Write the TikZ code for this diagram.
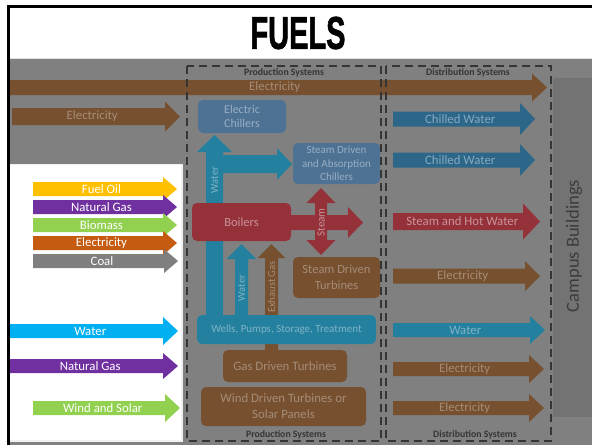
\documentclass[tikz,border=0pt]{standalone}
\usepackage{fontspec}
\usepackage{graphicx}
\setmainfont{Carlito}
\newfontfamily\titlefont{Liberation Sans}[BoldFeatures={FakeBold=1.6}]
\definecolor{bgG}{HTML}{808080}
\definecolor{campG}{HTML}{737373}
\definecolor{campT}{HTML}{3C3C3C}
\definecolor{dashC}{HTML}{353535}
\definecolor{brA}{HTML}{76502F}\definecolor{brAT}{HTML}{A58C78}
\definecolor{blA}{HTML}{2C6789}\definecolor{blAT}{HTML}{87A8C0}
\definecolor{cyA}{HTML}{24809F}\definecolor{cyAT}{HTML}{80B4C6}
\definecolor{rdA}{HTML}{953139}\definecolor{rdAT}{HTML}{C9939A}
\definecolor{bxB}{HTML}{4E7294}\definecolor{bxBT}{HTML}{98AEC3}
\definecolor{fo}{HTML}{FFC000}\definecolor{foT}{HTML}{FFFFFF}
\definecolor{ng}{HTML}{7030A0}\definecolor{ngT}{HTML}{FFFFFF}
\definecolor{bm}{HTML}{92D050}\definecolor{bmT}{HTML}{FFFFFF}
\definecolor{el}{HTML}{C55A11}\definecolor{elT}{HTML}{FFFFFF}
\definecolor{cl}{HTML}{7F7F7F}\definecolor{clT}{HTML}{FFFFFF}
\definecolor{wt}{HTML}{00B0F0}\definecolor{wtT}{HTML}{FFFFFF}
% name, x1, xtip, yc, halfbody, halfhead, headlen, colour, text
\newcommand\harr[9]{%
  \fill[#8] (#2,#4-#5) -- (#3-#7,#4-#5) -- (#3-#7,#4-#6) -- (#3,#4) -- (#3-#7,#4+#6) -- (#3-#7,#4+#5) -- (#2,#4+#5) -- cycle;
  \node[lab,text=#8T] (#1) at ({(#2+#3)/2-#7/4},#4) {#9};}
\begin{document}
\begin{tikzpicture}[x=1pt,y=-1pt,
  lab/.style={inner sep=0pt,font=\fontsize{12.8}{14}\selectfont},
  rlab/.style={inner sep=0pt,rotate=90,font=\fontsize{10.5}{12}\selectfont},
  rbox/.style={rounded corners=5pt,inner sep=0pt,align=center},
  dbox/.style={draw=dashC,line width=1.6pt,dash pattern=on 8pt off 5pt},
  sys/.style={inner sep=0pt,text=dashC,font=\fontsize{9.8}{11}\selectfont\bfseries}]
\useasboundingbox (0,0) rectangle (592,445);
\fill[white] (0,0) rectangle (592,445);
\fill[bgG] (10,58) rectangle (592,445);
\draw[white!75!gray,line width=0.8pt] (10,58) -- (592,58);
\draw[black,line width=2.6pt] (7,6.3) -- (592,6.3);
\draw[black,line width=2.6pt] (8.5,5) -- (8.5,445);
\node (title) at (298,33) {\scalebox{0.63}[1]{\titlefont\bfseries\fontsize{46}{46}\selectfont FUELS}};
% campus buildings
\fill[campG] (553,78) rectangle (592,417);
\node[rotate=90,inner sep=0pt,text=campT,font=\fontsize{18.5}{20}\selectfont] (campus) at (574,246) {Campus Buildings};
% white panel
\fill[white!88!gray] (10,163.5) rectangle (182.5,441.5);
\fill[white] (10,165) rectangle (180.5,439.5);
% left fuels
\harr{fuel}{33}{177}{189}{7}{12}{14}{fo}{Fuel Oil}
\harr{gas}{33}{177}{207}{7}{12}{14}{ng}{Natural Gas}
\harr{bio}{33}{177}{225}{7}{12}{14}{bm}{Biomass}
\harr{elec}{33}{177}{243}{7}{12}{14}{el}{Electricity}
\harr{coal}{33}{178}{261}{7}{12}{14}{cl}{Coal}
\harr{water}{10}{178}{331}{7}{14}{15}{wt}{Water}
\harr{gas2}{10}{178}{366}{7}{13}{15}{ng}{Natural Gas}
\harr{wind}{33}{180}{408}{7}{14}{15}{bm}{Wind and Solar}
% top electricity arrows
\harr{topelec}{10}{547}{87.5}{7.5}{14}{15}{brA}{Electricity}
\harr{elecin}{12}{180}{116.5}{8.5}{15}{15}{brA}{Electricity}
% distribution arrows
\harr{cw1}{393}{535}{119}{7.5}{16}{15}{blA}{Chilled Water}
\harr{cw2}{393}{535}{160}{7.5}{16}{15}{blA}{Chilled Water}
\harr{shw}{393}{540}{221.5}{8.5}{18}{17}{rdA}{Steam and Hot Water}
\harr{delec1}{393}{540}{276}{7.5}{15}{15}{brA}{Electricity}
\harr{dwater}{393}{545}{330}{7}{14}{15}{cyA}{Water}
\harr{delec2}{393}{544}{369}{7}{14}{15}{brA}{Electricity}
\harr{delec3}{393}{544}{408}{7}{14}{15}{brA}{Electricity}
% production arrows
\fill[cyA] (206,316) -- (206,152) -- (197,152) -- (214.5,135) -- (232,152) -- (223,152) -- (223,155) -- (277,155) -- (277,148) -- (292,164) -- (277,180) -- (277,173) -- (223,173) -- (223,316) -- cycle;
\fill[cyA] (235,316) -- (235,259) -- (226.5,259) -- (241.5,244) -- (256.5,259) -- (248,259) -- (248,316) -- cycle;
\fill[brA] (265,351) -- (265,258) -- (257.5,258) -- (271.5,244) -- (285.5,258) -- (278,258) -- (278,351) -- cycle;
\fill[rdA] (285,215) -- (348,215) -- (348,207) -- (363,222.5) -- (348,238) -- (348,230) -- (285,230) -- cycle;
\fill[rdA] (315,203) -- (306.5,203) -- (321,188) -- (335.5,203) -- (327,203) -- (327,240) -- (335.5,240) -- (321,255) -- (306.5,240) -- (315,240) -- cycle;
\node[rlab,text=cyAT] (w1) at (214.5,180) {Water};
\node[rlab,text=cyAT] (w2) at (241.5,288) {Water};
\node[rlab,text=brAT] (exh) at (271.5,287) {Exhaust Gas};
\node[rlab,text=rdAT,font=\fontsize{11}{12}\selectfont] (steam) at (321,222.5) {Steam};
% production boxes
\node[rbox,fill=bxB,text=bxBT,minimum width=88pt,minimum height=33pt,font=\fontsize{12}{14.5}\selectfont] (ec) at (242,116.5) {Electric\\Chillers};
\node[rbox,fill=bxB,text=bxBT,minimum width=87pt,minimum height=41pt,font=\fontsize{11}{13.5}\selectfont] (sdac) at (336.5,163.5) {Steam Driven\\and Absorption\\Chillers};
\node[rbox,fill=rdA,text=rdAT,minimum width=99pt,minimum height=38pt,font=\fontsize{12.5}{14}\selectfont] (boil) at (241.5,222) {Boilers};
\node[rbox,fill=brA,text=brAT,minimum width=87pt,minimum height=41pt,font=\fontsize{12.5}{16}\selectfont] (sdt) at (336.5,277.5) {Steam Driven\\Turbines};
\node[rbox,fill=cyA,text=cyAT,minimum width=179pt,minimum height=29pt,font=\fontsize{11}{13}\selectfont] (wells) at (286.5,329.5) {Wells, Pumps, Storage, Treatment};
\node[rbox,fill=brA,text=brAT,minimum width=124pt,minimum height=32pt,font=\fontsize{12.8}{14}\selectfont] (gdt) at (285,366) {Gas Driven Turbines};
\node[rbox,fill=brA,text=brAT,minimum width=165pt,minimum height=39pt,font=\fontsize{12.8}{16}\selectfont] (wdt) at (283.5,406.5) {Wind Driven Turbines or\\Solar Panels};
% system boxes
\draw[dbox] (187,66) rectangle (381,441);
\draw[dbox] (386,66) rectangle (551,441);
\node[sys] (ps1) at (284,73) {Production Systems};
\node[sys] (ps2) at (286,435) {Production Systems};
\node[sys] (ds1) at (468,73) {Distribution Systems};
\node[sys] (ds2) at (475,435) {Distribution Systems};
\end{tikzpicture}
\end{document}
